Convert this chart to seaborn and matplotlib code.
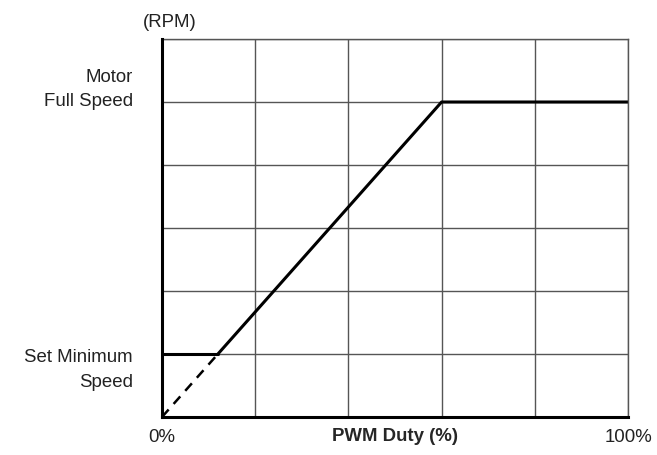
import numpy as np
import pandas as pd
import matplotlib.pyplot as plt
import seaborn as sns

# PWM duty (%) vs motor speed (grid units, 0..6)
duty_ramp = [12, 60, 100]
speed_ramp = [1, 5, 5]
duty_floor = [0, 12]
speed_floor = [1, 1]
duty_dash = [0, 12]
speed_dash = [0, 1]

x_ticks = [0, 20, 40, 60, 80, 100]
x_labels = ['0%', '', '', '', '', '100%']
y_ticks = [0, 1, 2, 3, 4, 5, 6]

sns.set_theme(style='white')
plt.rcParams['font.family'] = ['Liberation Sans', 'DejaVu Sans']

fig = plt.figure(figsize=(6.57, 4.55), dpi=100)
ax = fig.add_axes([162 / 657, 1 - 417 / 455, 466 / 657, 378 / 455])

sns.lineplot(x=duty_ramp, y=speed_ramp, ax=ax, color='black', lw=2.2, sort=False)
sns.lineplot(x=duty_floor, y=speed_floor, ax=ax, color='black', lw=2.2)
sns.lineplot(x=duty_dash, y=speed_dash, ax=ax, color='black', lw=1.8,
             linestyle=(0, (4, 3)))

fs = 13.4
ax.set_xlim(0, 100)
ax.set_ylim(0, 6)
ax.set_xticks(x_ticks, x_labels)
ax.set_yticks(y_ticks, [''] * len(y_ticks))
ax.tick_params(length=0, labelsize=fs, pad=9, colors='#222222')
ax.grid(True, color='#555555', lw=1.0)

for side in ['top', 'right']:
    ax.spines[side].set_color('#555555')
    ax.spines[side].set_linewidth(1.0)
for side in ['left', 'bottom']:
    ax.spines[side].set_color('black')
    ax.spines[side].set_linewidth(2.2)
    ax.spines[side].set_zorder(5)

ax.set_xlabel('PWM Duty (%)', fontsize=fs, fontweight='bold', labelpad=-13.5)

txt = dict(fontsize=fs, color='#222222', ha='right', linespacing=1.55)
ax.annotate('Motor\nFull Speed', xy=(0, 5), xytext=(-21, -3),
            textcoords='offset points', va='baseline', **txt)
ax.annotate('Set Minimum\nSpeed', xy=(0, 1), xytext=(-21, -23.5),
            textcoords='offset points', va='baseline', **txt)
ax.annotate('(RPM)', xy=(0, 6), xytext=(5.4, 8.6),
            textcoords='offset points', va='baseline', ha='center',
            fontsize=fs, color='#222222')

fig.savefig('out.png', dpi=100)
